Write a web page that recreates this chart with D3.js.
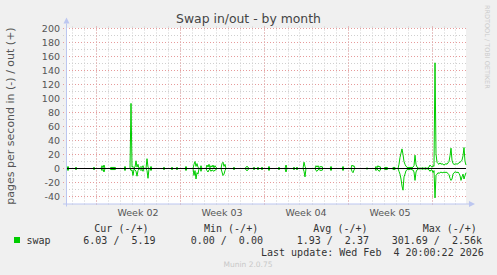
<!DOCTYPE html>
<html><head><meta charset="utf-8">
<script src="https://cdn.jsdelivr.net/npm/d3@7"></script>
<style>
html,body{margin:0;padding:0;background:#F0F0F0;}
svg{display:block;}
text{white-space:pre;}
</style></head>
<body>
<svg id="c" width="497" height="275"></svg>
<script>
// ---- data ----
const startTime = Date.UTC(2026, 0, 2, 12, 0, 0);   // left edge of plot
const endTime   = Date.UTC(2026, 1, 4, 20, 0, 0);   // last update
const stepHours = 2;
const yTicks = [-40,-20,0,20,40,60,80,100,120,140,160,180,200];
const weekLabels = ["Week 02","Week 03","Week 04","Week 05"];
const weekStarts = ["2026-01-05","2026-01-12","2026-01-19","2026-01-26","2026-02-02"];
// bursts of activity: start hour (from startTime), samples every 2h; zero elsewhere
const burstStartHour = [2,18,54,70,88,116,128,194,210,238,254,280,310,334,358,374,404,424,438,454,474,498,528,552,570,600,618,636,652,664];
const swapOut = [
[0,3,0],[0,2,0],[0,2,0],[0,4,1,5,0],[0,2,1,2,1,2,0],[0,3,0],
[0,93,2,3,1,2,11,2,6,0,1,3,1,4,0,0,0,14,2,0,0,3,0],
[0,2,0],[0,2,0,0,0,0,2,0],[0,3,0],[0,6,10,3,7,2,0,0,4,0],[0,5,2,6,1,4,2,5,1,4,2,0],
[0,7,9,3,6,0],[0,2,0],[0,2,3,2,0],[0,2,0,0,0,2,0,0,0,2,0],[0,3,0],[0,2,0],[0,5,0],
[0,2,0,0,2,0],[0,9,3,0],[0,4,2,4,1,3,2,3,0],[0,3,0],[0,3,0],[0,5,3,4,0],[0,1,0],
[0,3,1,4,2,3,0],[0,2,1,2,0],[0,1,2,1,0],
[0,6,16,22,28,20,10,6,3,2,1,2,1,2,1,2,4,19,6,2,1,0,1,0,1,1,0,1,1,0,1,2,5,3,2,4,3,151,21,9,7,6,8,6,7,6,5,6,7,6,8,10,18,29,12,7,6,6,7,6,7,8,9,10,12,18,30,10,5]
];
const swapIn = [
[0,3,0],[0,2,0],[0,2,0],[0,3,1,5,0],[0,2,1,2,1,2,0],[0,3,0],
[0,3,2,10,1,2,4,11,3,0,1,3,1,4,0,0,0,3,14,0,0,3,0],
[0,2,0],[0,2,0,0,0,0,2,0],[0,3,0],[0,10,3,15,6,8,0,0,4,0],[0,3,5,2,1,4,2,3,4,2,2,0],
[0,5,10,8,3,0],[0,2,0],[0,2,3,2,0],[0,2,0,0,0,2,0,0,0,2,0],[0,3,0],[0,2,0],[0,5,0],
[0,2,0,0,2,0],[0,4,12,0],[0,3,4,2,1,3,2,3,0],[0,3,0],[0,3,0],[0,4,6,2,0],[0,1,0],
[0,3,1,2,4,3,0],[0,2,1,2,0],[0,1,2,1,0],
[0,4,8,15,25,31,12,8,3,2,1,2,1,1,2,2,5,17,5,2,1,0,1,0,1,1,0,1,1,0,1,2,4,2,2,6,3,42,10,8,6,7,6,5,6,6,5,6,5,6,7,9,14,17,15,8,6,5,5,6,5,7,10,17,12,8,15,10,6]
];
const legendHeaders = ["Cur (-/+)","Min (-/+)","Avg (-/+)","Max (-/+)"];
const legendValues  = ["6.03 /  5.19","0.00 /  0.00","1.93 /  2.37","301.69 /  2.56k"];

// ---- layout ----
const svg = d3.select("#c");
const L = 66, R = 466, T = 28.5, B = 203.5;
const x = d3.scaleUtc().domain([startTime, endTime]).range([L, R]);
const y = d3.scaleLinear().domain([-50, 200]).range([B, T]);

svg.append("rect").attr("width",497).attr("height",275).attr("fill","#F0F0F0");
svg.append("rect").attr("x",L).attr("y",28).attr("width",R-L).attr("height",176).attr("fill","#FFFFFF");

const minorCol = "#CFCFCF", majorCol = "#E79A9A";
const g = svg.append("g");
// horizontal grid every 10 (major every 20)
d3.range(-40, 201, 10).forEach(v=>{
  const major = v % 20 === 0;
  const yy = Math.floor(y(v)) + 0.5;
  g.append("path").attr("d",`M${L-3},${yy}H${R+2}`)
   .attr("stroke", major?majorCol:minorCol).attr("stroke-width",1).attr("stroke-dasharray","1,2").attr("fill","none");
});
// vertical grid every day, major every week
const days = d3.utcDay.range(new Date(startTime), new Date(endTime));
days.forEach(d=>{
  const xx = Math.floor(x(d)) + 0.5;
  g.append("path").attr("d",`M${xx},${T-2}V${B+3}`)
   .attr("stroke",minorCol).attr("stroke-width",1).attr("stroke-dasharray","1,2").attr("fill","none");
});
weekStarts.forEach(s=>{
  const xx = Math.floor(x(new Date(s+"T00:00:00Z"))) + 0.5;
  g.append("path").attr("d",`M${xx},${T-2}V${B+3}`)
   .attr("stroke",majorCol).attr("stroke-width",1).attr("stroke-dasharray","1,2").attr("fill","none");
});

// y tick labels
svg.selectAll("text.yt").data(yTicks).enter().append("text")
  .attr("x",60).attr("y",v=>y(v)+3.5).attr("text-anchor","end")
  .attr("font-family","DejaVu Sans").attr("font-size","9.5px").attr("fill","#555").text(v=>v);
// week labels (mid-week)
weekLabels.forEach((lab,i)=>{
  const a = new Date(weekStarts[i]+"T00:00:00Z"), b = new Date(weekStarts[i+1]+"T00:00:00Z");
  const mx = (x(a)+x(b))/2;
  svg.append("text").attr("x",mx).attr("y",216).attr("text-anchor","middle")
   .attr("font-family","DejaVu Sans").attr("font-size","9.5px").attr("fill","#555").text(lab);
});

// series
function buildSeries(arrs){
  const pts = [{t:startTime, v:0}];
  arrs.forEach((vals,i)=>{
    vals.forEach((v,j)=>pts.push({t:startTime + (burstStartHour[i] + j*stepHours)*3600e3, v}));
  });
  return pts;
}
const outPts = buildSeries(swapOut);
const inPts = buildSeries(swapIn).map(p=>({t:p.t, v:-p.v}));
const line = d3.line().x(p=>x(p.t)).y(p=>y(p.v));
svg.append("path").attr("d",line(inPts)).attr("fill","none").attr("stroke","#00CC00").attr("stroke-width",1);
svg.append("path").attr("d",line(outPts)).attr("fill","none").attr("stroke","#00CC00").attr("stroke-width",1);

// zero line (drawn over the series at 0)
svg.append("path").attr("d",`M${L},${y(0)}H${R}`)
  .attr("stroke","#000").attr("stroke-width",1).attr("fill","none");

// axes
const axCol = "#BCC6F0";
svg.append("path").attr("d",`M${L+0.5},${B+3}V${T-5}`).attr("stroke",axCol).attr("fill","none");
svg.append("path").attr("d",`M${L-3},${B+0.5}H${R+3}`).attr("stroke",axCol).attr("fill","none");
svg.append("path").attr("d",`M${L-2.5},${T-5} L${L+3.5},${T-5} L${L+0.5},${T-11} Z`).attr("fill",axCol);
svg.append("path").attr("d",`M${R+3},${B-2.5} L${R+3},${B+3.5} L${R+9},${B+0.5} Z`).attr("fill",axCol);

// title
svg.append("text").attr("x",248.5).attr("y",23).attr("text-anchor","middle")
  .attr("font-family","DejaVu Sans").attr("font-size","12.4px").attr("fill","#444").text("Swap in/out - by month");
// y label
svg.append("text").attr("transform",`translate(14,${(T+B)/2}) rotate(-90)`).attr("text-anchor","middle")
  .attr("font-family","DejaVu Sans").attr("font-size","11px").attr("fill","#555").text("pages per second in (-) / out (+)");
// watermark
svg.append("text").attr("transform","translate(484.5,5) rotate(90)").attr("text-anchor","start")
  .attr("font-family","DejaVu Sans").attr("font-size","6.5px").attr("fill","#CCCCCC").text("RRDTOOL / TOBI OETIKER");

// legend
const mono = "DejaVu Sans Mono";
const hx = [94.3, 204, 313.3, 422.7];
const vx = [83.3, 190.7, 296.7, 391.7];
legendHeaders.forEach((h,i)=>svg.append("text").attr("x",hx[i]).attr("y",232).attr("font-family",mono).attr("font-size","10px").attr("fill","#333").text(h));
svg.append("rect").attr("x",14).attr("y",237).attr("width",6).attr("height",6).attr("fill","#00CC00");
svg.append("text").attr("x",26.5).attr("y",243.5).attr("font-family",mono).attr("font-size","10px").attr("fill","#333").text("swap");
legendValues.forEach((v,i)=>svg.append("text").attr("x",vx[i]).attr("y",243.5).attr("font-family",mono).attr("font-size","10px").attr("fill","#333").text(v));
svg.append("text").attr("x",261).attr("y",255.5).attr("font-family",mono).attr("font-size","10px").attr("fill","#333").text("Last update: Wed Feb  4 20:00:22 2026");
svg.append("text").attr("x",248).attr("y",267).attr("text-anchor","middle").attr("font-family","DejaVu Sans").attr("font-size","7.5px").attr("fill","#C8C8C8").text("Munin 2.0.75");
</script>
</body></html>
